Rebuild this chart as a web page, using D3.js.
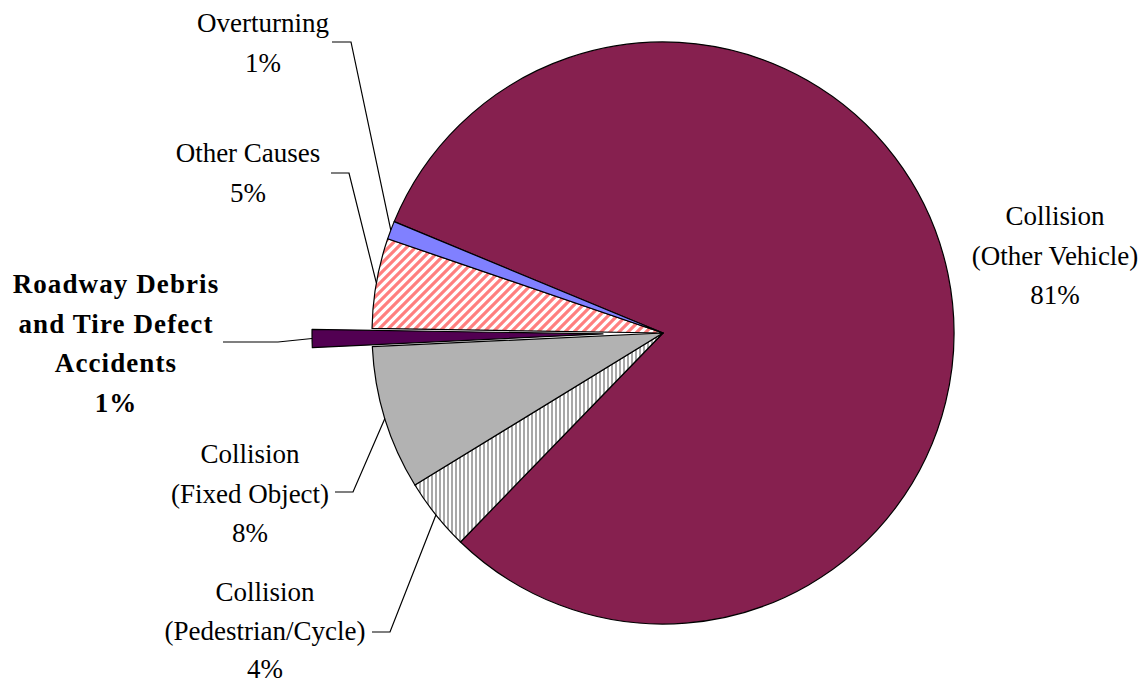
<!DOCTYPE html>
<html>
<head>
<meta charset="utf-8">
<script src="https://cdn.jsdelivr.net/npm/d3@7"></script>
<style>
html,body{margin:0;padding:0;background:#fff;}
svg{display:block;}
</style>
</head>
<body>
<svg id="chart" width="1145" height="685"></svg>
<script>
// ---- data ----
const categories = ["Collision (Other Vehicle)", "Collision (Pedestrian/Cycle)", "Collision (Fixed Object)", "Roadway Debris and Tire Defect Accidents", "Other Causes", "Overturning"];
const values = [81, 4, 8, 1, 5, 1];
const labelLines = [
  ["Collision", "(Other Vehicle)", "81%"],
  ["Collision", "(Pedestrian/Cycle)", "4%"],
  ["Collision", "(Fixed Object)", "8%"],
  ["Roadway Debris", "and Tire Defect", "Accidents", "1%"],
  ["Other Causes", "5%"],
  ["Overturning", "1%"]
];
const fills = ["#86204F", "url(#vstripe)", "#B2B2B2", "#520052", "url(#dstripe)", "#8080FF"];
const explodedIndex = 3;

// ---- layout ----
const cx = 663, cy = 333, R = 291, explode = 60;
const startAngle = 292.5 * Math.PI / 180;
// label layout: center x, first baseline, line step, leader elbow [x1,x2,y]
const labelLayout = [
  {x: 1055, y: 225, step: 39.5, bold: false, leader: null},
  {x: 265, y: 601, step: 38.5, bold: false, leader: [372, 390, 632]},
  {x: 250, y: 463, step: 39.5, bold: false, leader: [335, 353, 492]},
  {x: 116, y: 293, step: 39.5, bold: true, leader: [223, 278, 342]},
  {x: 248, y: 162, step: 39.5, bold: false, leader: [331, 349, 173]},
  {x: 263, y: 32, step: 39.5, bold: false, leader: [332, 351, 42]}
];

const svg = d3.select("#chart");
const defs = svg.append("defs");
const vp = defs.append("pattern").attr("id", "vstripe").attr("patternUnits", "userSpaceOnUse")
  .attr("width", 4).attr("height", 4);
vp.append("rect").attr("width", 4).attr("height", 4).attr("fill", "#fff");
vp.append("rect").attr("width", 2).attr("height", 4).attr("fill", "#A8A8A8");
const dp = defs.append("pattern").attr("id", "dstripe").attr("patternUnits", "userSpaceOnUse")
  .attr("width", 9).attr("height", 9);
dp.append("rect").attr("width", 9).attr("height", 9).attr("fill", "#fff");
dp.append("path").attr("d", "M-2.25,2.25 L2.25,-2.25 M0,9 L9,0 M6.75,11.25 L11.25,6.75")
  .attr("stroke", "#FF7F7F").attr("stroke-width", 3.2);

const pie = d3.pie().sort(null).value(d => d)
  .startAngle(startAngle).endAngle(startAngle + 2 * Math.PI);
const arcs = pie(values);
const arc = d3.arc().innerRadius(0).outerRadius(R);

const g = svg.append("g").attr("transform", `translate(${cx},${cy})`);
function offset(d, i) {
  if (i !== explodedIndex) return [0, 0];
  const m = (d.startAngle + d.endAngle) / 2;
  return [Math.sin(m) * explode, -Math.cos(m) * explode];
}
g.selectAll("path.slice").data(arcs).join("path")
  .attr("class", "slice")
  .attr("d", arc)
  .attr("transform", (d, i) => { const o = offset(d, i); return `translate(${o[0]},${o[1]})`; })
  .attr("fill", (d, i) => fills[i])
  .attr("stroke", "#000").attr("stroke-width", 1.2).attr("stroke-linejoin", "round");

// leaders
arcs.forEach((d, i) => {
  const L = labelLayout[i];
  if (!L.leader) return;
  const m = (d.startAngle + d.endAngle) / 2;
  const o = offset(d, i);
  let ex = cx + o[0] + Math.sin(m) * R, ey = cy + o[1] - Math.cos(m) * R;
  const [x1, x2, y] = L.leader;
  svg.append("path")
    .attr("d", `M${x1},${y} L${x2},${y} L${ex},${ey}`)
    .attr("fill", "none").attr("stroke", "#000").attr("stroke-width", 1.2);
});

// labels
labelLines.forEach((lines, i) => {
  const L = labelLayout[i];
  const t = svg.append("text")
    .attr("x", L.x).attr("y", L.y)
    .attr("text-anchor", "middle")
    .attr("font-family", "'Liberation Serif', 'Times New Roman', serif")
    .attr("font-size", 27)
    .attr("font-weight", L.bold ? "bold" : "normal")
    .attr("letter-spacing", L.bold ? "1.1px" : "0px")
    .attr("fill", "#000");
  lines.forEach((s, j) => {
    t.append("tspan").attr("x", L.x).attr("dy", j === 0 ? 0 : L.step).text(s);
  });
});
</script>
</body>
</html>
